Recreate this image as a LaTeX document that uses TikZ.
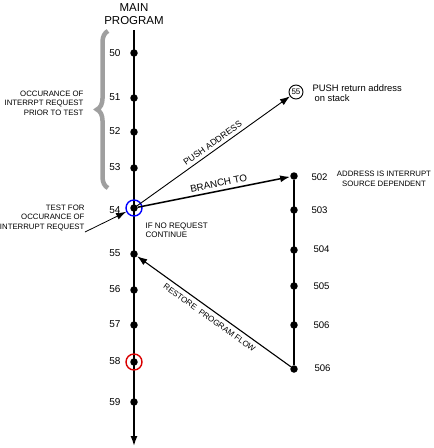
\documentclass[tikz,border=0pt]{standalone}
\usepackage{fontspec}
\setmainfont{Liberation Sans}
\usetikzlibrary{arrows.meta, decorations.pathreplacing}

\begin{document}
\begin{tikzpicture}[x=1pt, y=-1pt, font=\fontsize{7.8}{9.5}\selectfont, align=center,
  stepdot/.style={circle, fill=black, inner sep=0pt, minimum size=7.5pt},
  numlbl/.style={font=\fontsize{10}{11}\selectfont},
  ring/.style={circle, draw, line width=1.4pt, inner sep=0pt, minimum size=16pt},
  flow/.style={-{Latex[length=10pt, width=7pt]}}]
  \useasboundingbox (0,0) rectangle (434,448);

  % Main program line
  \node (title) [font=\fontsize{11.5}{13}\selectfont] at (134,14) {MAIN\\PROGRAM};
  \coordinate (top) at (134,30);
  \coordinate (bot) at (134,446);
  \draw[flow, line width=1.5pt] (top) -- (bot);

  \node (d50) [stepdot] at (134,53) {};
  \node (d51) [stepdot] at (134,98) {};
  \node (d52) [stepdot] at (134,132) {};
  \node (d53) [stepdot] at (134,168) {};
  \node (d54) [stepdot] at (134,208) {};
  \node (d55) [stepdot] at (134,254) {};
  \node (d56) [stepdot] at (134,290) {};
  \node (d57) [stepdot] at (134,325) {};
  \node (d58) [stepdot] at (134,362) {};
  \node (d59) [stepdot] at (134,402) {};
  \node (ring54) [ring, draw=blue] at (d54) {};
  \node (ring58) [ring, draw=red!85!black] at (d58) {};

  \node (l50) [numlbl, anchor=east] at (124,53) {50};
  \node (l51) [numlbl, anchor=east] at (124,97) {51};
  \node (l52) [numlbl, anchor=east] at (124,131) {52};
  \node (l53) [numlbl, anchor=east] at (124,167) {53};
  \node (l54) [numlbl, anchor=east] at (124,210) {54};
  \node (l55) [numlbl, anchor=east] at (124,253) {55};
  \node (l56) [numlbl, anchor=east] at (124,289) {56};
  \node (l57) [numlbl, anchor=east] at (124,324) {57};
  \node (l58) [numlbl, anchor=east] at (124,361) {58};
  \node (l59) [numlbl, anchor=east] at (124,402) {59};

  % Interrupt routine
  \node (d502) [stepdot] at (294,176) {};
  \node (d503) [stepdot] at (294,210) {};
  \node (d504) [stepdot] at (294,250) {};
  \node (d505) [stepdot] at (294,286) {};
  \node (d506a) [stepdot] at (294,325) {};
  \node (d506b) [stepdot] at (294,369) {};
  \draw[line width=1.5pt] (d502) -- (d506b);

  \node (l502) [numlbl, anchor=west, font=\fontsize{9.6}{11}\selectfont] at (308,177) {502};
  \node (l503) [numlbl, anchor=west, font=\fontsize{9.6}{11}\selectfont] at (308,210) {503};
  \node (l504) [numlbl, anchor=west, font=\fontsize{9.6}{11}\selectfont] at (310,249) {504};
  \node (l505) [numlbl, anchor=west, font=\fontsize{9.6}{11}\selectfont] at (310,286) {505};
  \node (l506a) [numlbl, anchor=west, font=\fontsize{9.6}{11}\selectfont] at (310,325) {506};
  \node (l506b) [numlbl, anchor=west, font=\fontsize{9.6}{11}\selectfont] at (311,368) {506};

  % Stack
  \node (stk) [circle, draw, line width=0.9pt, inner sep=0pt, minimum size=14pt, font=\fontsize{8}{9}\selectfont] at (296,92) {55};
  \node (stktxt) [anchor=west, align=left, font=\fontsize{9.4}{10.5}\selectfont] at (309,93) {PUSH return address\\\hspace{2pt}on stack};
  \node (src) at (384,179) {ADDRESS IS INTERRUPT\\SOURCE DEPENDENT};

  % Connectors
  \draw[flow, line width=0.9pt] (d54) -- node[sloped, above, pos=0.52, font=\fontsize{8.8}{10}\selectfont] {PUSH ADDRESS} (stk);
  \draw[flow, line width=1.5pt] (d54) -- node[sloped, above, pos=0.54, font=\fontsize{9.8}{11}\selectfont] {BRANCH TO} (d502);
  \draw[flow, line width=1.1pt] (d506b) -- node[rotate=-35.7, below=1pt, pos=0.5, font=\fontsize{8.1}{9}\selectfont] {RESTORE\ \ PROGRAM FLOW} (d55);

  % Test and brace
  \node (tst) [anchor=east, align=right] at (88,218) {TEST FOR\\OCCURANCE OF\\INTERRUPT REQUEST};
  \coordinate (tstend) at (85,232);
  \draw[flow, line width=0.8pt] (tstend) -- (ring54);
  \node (cont) [anchor=west, align=left, font=\fontsize{8}{9.5}\selectfont] at (142,230) {IF NO REQUEST\\CONTINUE};

  \draw[gray!75, line width=4.5pt, decorate, decoration={brace, amplitude=11pt}] (108,188) -- (108,31);
  \node (prior) [anchor=east, align=right] at (87,103) {OCCURANCE OF\\INTERRPT REQUEST\\PRIOR TO TEST};

\end{tikzpicture}
\end{document}
